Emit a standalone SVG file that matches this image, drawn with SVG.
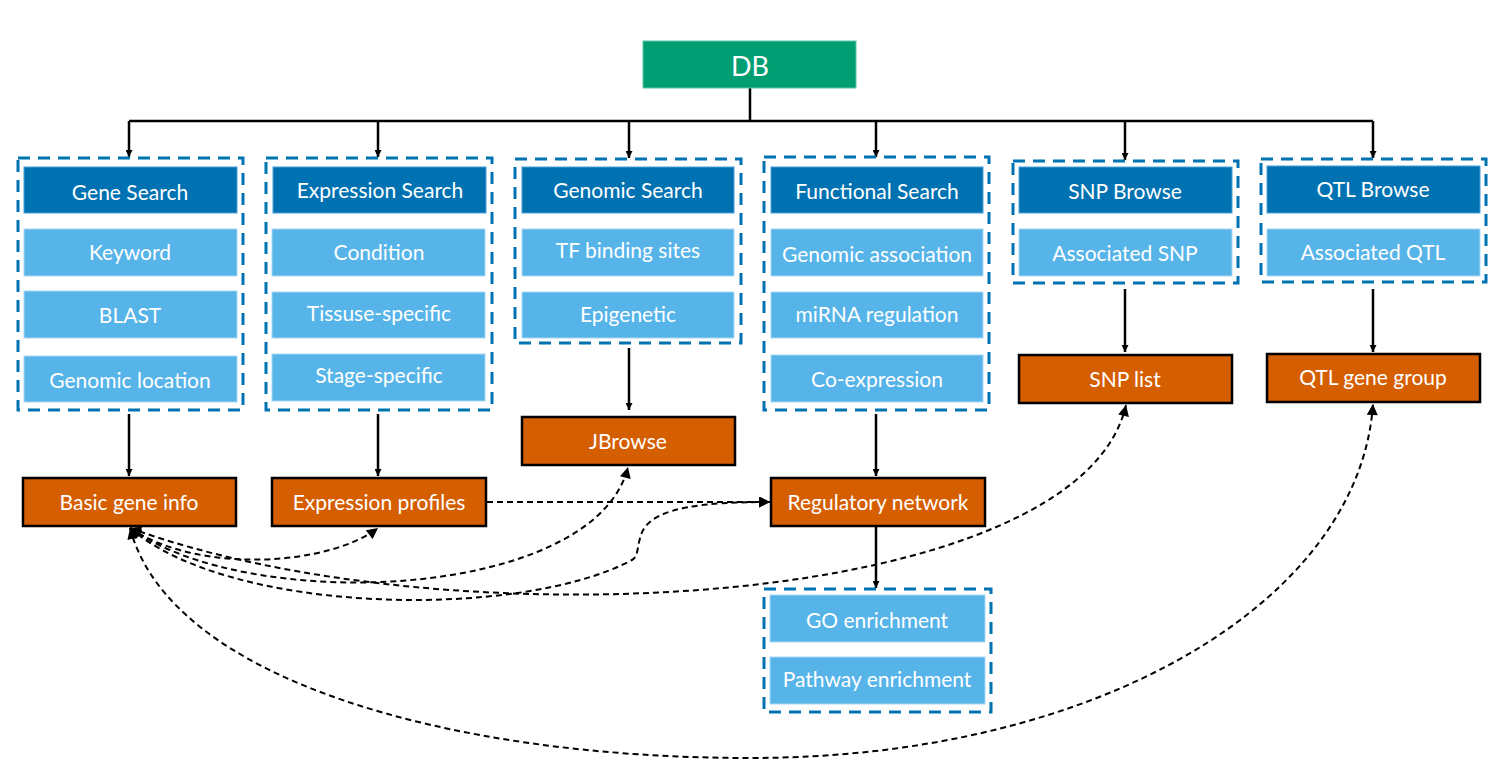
<svg xmlns="http://www.w3.org/2000/svg" width="1500" height="760" viewBox="0 0 1500 760">
<style>
text{font-family:Lato,"Source Sans Pro","Liberation Sans",sans-serif;font-size:21px;fill:#ffffff;text-anchor:middle;dominant-baseline:central}
.grp{fill:none;stroke:#0072B2;stroke-width:3;stroke-dasharray:12 8}
.hdr{fill:#0072B2;stroke:#4a9fd6;stroke-width:1}
.itm{fill:#56B4E9;stroke:#a8d8f5;stroke-width:1}
.out{fill:#D55E00;stroke:#000000;stroke-width:2.5}
.db{fill:#009E73;stroke:#5cc9a7;stroke-width:1}
.solid{fill:none;stroke:#000000;stroke-width:2.5}
.dash{fill:none;stroke:#000000;stroke-width:2;stroke-dasharray:6 4}
</style>
<defs>
<marker id="sa" viewBox="0 0 10 10" refX="10" refY="5" markerWidth="7" markerHeight="7" markerUnits="userSpaceOnUse" orient="auto">
<path d="M0,0 L10,5 L0,10 z" fill="#000"/>
</marker>
<marker id="da" viewBox="0 0 10 10" refX="10" refY="5" markerWidth="13" markerHeight="11" markerUnits="userSpaceOnUse" orient="auto-start-reverse">
<path d="M0,0 L10,5 L0,10 z" fill="#000"/>
</marker>
</defs>

<g id="connectors">
<path class="solid" d="M750 88 V121 M129 121 H1373"/>
<path class="solid" d="M129 121 V157" marker-end="url(#sa)"/>
<path class="solid" d="M378 121 V157" marker-end="url(#sa)"/>
<path class="solid" d="M629 121 V158" marker-end="url(#sa)"/>
<path class="solid" d="M876 121 V157" marker-end="url(#sa)"/>
<path class="solid" d="M1125 121 V160" marker-end="url(#sa)"/>
<path class="solid" d="M1373 121 V158" marker-end="url(#sa)"/>
<path class="solid" d="M129 414 V476" marker-end="url(#sa)"/>
<path class="solid" d="M378 414 V476" marker-end="url(#sa)"/>
<path class="solid" d="M629 348 V410" marker-end="url(#sa)"/>
<path class="solid" d="M876 414 V476" marker-end="url(#sa)"/>
<path class="solid" d="M876 527 V588" marker-end="url(#sa)"/>
<path class="solid" d="M1125 289 V352" marker-end="url(#sa)"/>
<path class="solid" d="M1373 289 V352" marker-end="url(#sa)"/>
<path class="dash" d="M487 502 H770" marker-end="url(#da)"/>
<path class="dash" d="M130 528 C200 575 330 565 378 528" marker-start="url(#da)" marker-end="url(#da)"/>
<path class="dash" d="M130 528 C250 615 595 600 628 467" marker-start="url(#da)" marker-end="url(#da)"/>
<path class="dash" d="M130 528 C230 615 520 620 632 560 C640 556 636 540 645 527 C660 508 700 502 770 502" marker-start="url(#da)" marker-end="url(#da)"/>
<path class="dash" d="M130 528 C450 645 1080 610 1126 405" marker-start="url(#da)" marker-end="url(#da)"/>
<path class="dash" d="M130 528 C170 680 450 758 750 758 C1100 758 1360 600 1373 404" marker-start="url(#da)" marker-end="url(#da)"/>
</g>

<g id="db">
<rect class="db" x="643" y="41" width="213" height="47"/>
<text x="750" y="65" style="font-size:27px">DB</text>
</g>

<g id="gene-search">
<rect class="grp" x="18" y="158" width="225" height="252"/>
<rect class="hdr" x="24" y="167" width="213" height="46"/>
<text x="130" y="191">Gene Search</text>
<rect class="itm" x="24" y="229" width="213" height="47"/>
<text x="130" y="251">Keyword</text>
<rect class="itm" x="24" y="291" width="213" height="47"/>
<text x="130" y="314">BLAST</text>
<rect class="itm" x="24" y="356" width="213" height="46"/>
<text x="130" y="379">Genomic location</text>
</g>

<g id="expression-search">
<rect class="grp" x="266" y="158" width="226" height="252"/>
<rect class="hdr" x="273" y="167" width="213" height="46"/>
<text x="380" y="189">Expression Search</text>
<rect class="itm" x="272" y="229" width="213" height="47"/>
<text x="379" y="251">Condition</text>
<rect class="itm" x="272" y="292" width="213" height="46"/>
<text x="379" y="312">Tissuse-specific</text>
<rect class="itm" x="272" y="354" width="213" height="47"/>
<text x="379" y="374">Stage-specific</text>
</g>

<g id="genomic-search">
<rect class="grp" x="515" y="159" width="226" height="184"/>
<rect class="hdr" x="522" y="167" width="212" height="46"/>
<text x="628" y="189">Genomic Search</text>
<rect class="itm" x="522" y="229" width="212" height="47"/>
<text x="628" y="249">TF binding sites</text>
<rect class="itm" x="522" y="292" width="212" height="46"/>
<text x="628" y="313">Epigenetic</text>
</g>

<g id="functional-search">
<rect class="grp" x="764" y="157" width="225" height="253"/>
<rect class="hdr" x="771" y="167" width="212" height="46"/>
<text x="877" y="190">Functional Search</text>
<rect class="itm" x="771" y="229" width="212" height="47"/>
<text x="877" y="253">Genomic association</text>
<rect class="itm" x="771" y="292" width="212" height="46"/>
<text x="877" y="313">miRNA regulation</text>
<rect class="itm" x="771" y="355" width="212" height="47"/>
<text x="877" y="378">Co-expression</text>
</g>

<g id="snp-browse">
<rect class="grp" x="1013" y="161" width="225" height="122"/>
<rect class="hdr" x="1019" y="167" width="213" height="46"/>
<text x="1125" y="190">SNP Browse</text>
<rect class="itm" x="1019" y="229" width="213" height="47"/>
<text x="1125" y="252">Associated SNP</text>
</g>

<g id="qtl-browse">
<rect class="grp" x="1261" y="159" width="225" height="123"/>
<rect class="hdr" x="1267" y="166" width="213" height="47"/>
<text x="1373" y="188">QTL Browse</text>
<rect class="itm" x="1267" y="229" width="213" height="47"/>
<text x="1373" y="251">Associated QTL</text>
</g>

<g id="basic-gene-info">
<rect class="out" x="23" y="478" width="213" height="48"/>
<text x="129" y="501">Basic gene info</text>
</g>

<g id="expression-profiles">
<rect class="out" x="272" y="478" width="214" height="48"/>
<text x="379" y="501">Expression profiles</text>
</g>

<g id="jbrowse">
<rect class="out" x="522" y="417" width="213" height="48"/>
<text x="628" y="440">JBrowse</text>
</g>

<g id="regulatory-network">
<rect class="out" x="771" y="478" width="214" height="48"/>
<text x="878" y="501">Regulatory network</text>
</g>

<g id="snp-list">
<rect class="out" x="1019" y="355" width="213" height="48"/>
<text x="1125" y="378">SNP list</text>
</g>

<g id="qtl-gene-group">
<rect class="out" x="1267" y="354" width="213" height="48"/>
<text x="1373" y="376">QTL gene group</text>
</g>

<g id="enrichment">
<rect class="grp" x="764" y="589" width="227" height="123"/>
<rect class="itm" x="770" y="595" width="215" height="47"/>
<text x="877" y="619">GO enrichment</text>
<rect class="itm" x="770" y="657" width="215" height="47"/>
<text x="877" y="678">Pathway enrichment</text>
</g>
</svg>
